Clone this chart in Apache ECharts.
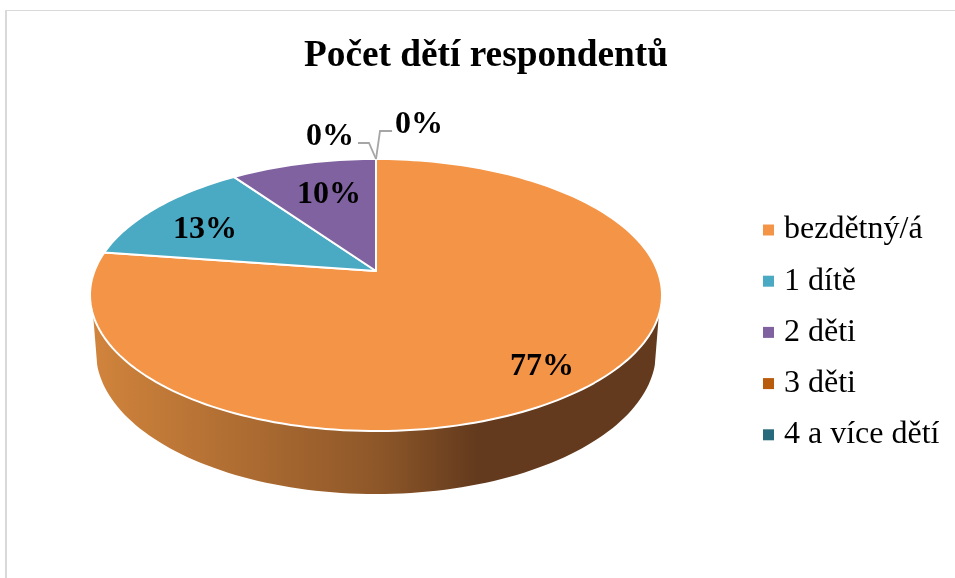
<!DOCTYPE html>
<html>
<head>
<meta charset="utf-8">
<style>html,body{margin:0;padding:0;background:#fff}#c{width:955px;height:578px}</style>
<script src="https://cdn.jsdelivr.net/npm/echarts@6/dist/echarts.min.js"></script>
</head>
<body>
<div id="c"></div>
<script>
const chartTitle = 'Počet dětí respondentů';
const categories = ['bezdětný/á', '1 dítě', '2 děti', '3 děti', '4 a více dětí'];
const shares = [77.3, 12.9, 9.8, 0, 0];
const colors = ['#F39446', '#4AA9C3', '#8062A0', '#B85B0B', '#276A7C'];

// layout (not data)
const FONT = '"Liberation Serif","Times New Roman",serif';
const topDisc = {cx: 376, cy: 271, A: 281.5, B: 131.8};
const botDisc = {cx: 376, cy: 327, A: 275.6, B: 137.6};
const P = 0.1765;
const labelAt = [[542, 367], [205, 230], [329, 195], [330, 137], [419, 125]];
const leaders = {3: [[358, 143], [369, 143], [376, 159]], 4: [[392, 131], [380, 131], [376, 159]]};
const WALL_TOP = [108.4, 251.6], WALL_BOT = [105.3, 254.7];

const total = shares.reduce((a, b) => a + b, 0);
function project(d, deg, r) {
  const a = deg * Math.PI / 180, u = r * Math.sin(a), v = r * Math.cos(a), w = 1 + P * v;
  return [d.cx + d.A * u / w, d.cy - d.B * v / w];
}
function arc(d, a0, a1) {
  const n = Math.max(2, Math.ceil(Math.abs(a1 - a0) / 1.5)), pts = [];
  for (let i = 0; i <= n; i++) pts.push(project(d, a0 + (a1 - a0) * i / n, 1));
  return pts;
}
function renderSlice(idx, value) {
  const before = shares.slice(0, idx).reduce((a, b) => a + b, 0);
  const a0 = before / total * 360, a1 = (before + value) / total * 360;
  const children = [];
  const lo = Math.max(a0, WALL_TOP[0]), hi = Math.min(a1, WALL_TOP[1]);
  if (hi > lo) {
    const k = (WALL_BOT[1] - WALL_BOT[0]) / (WALL_TOP[1] - WALL_TOP[0]);
    const lb = WALL_BOT[0] + (lo - WALL_TOP[0]) * k, hb = WALL_BOT[0] + (hi - WALL_TOP[0]) * k;
    children.push({
      type: 'polygon',
      shape: {points: arc(topDisc, lo, hi).concat(arc(botDisc, hb, lb))},
      style: {fill: {type: 'linear', x: 92, y: 0, x2: 662, y2: 0, global: true, colorStops: [
        {offset: 0, color: '#D1843C'}, {offset: 0.5, color: '#8E5729'},
        {offset: 0.677, color: '#633A1D'}, {offset: 1, color: '#633A1D'}]}}
    });
  }
  if (value > 0) {
    children.push({
      type: 'polygon',
      shape: {points: [[topDisc.cx, topDisc.cy]].concat(arc(topDisc, a0, a1))},
      style: {fill: colors[idx], stroke: '#fff', lineWidth: 2, lineJoin: 'round'}
    });
  }
  if (leaders[idx]) {
    children.push({type: 'polyline', shape: {points: leaders[idx]},
      style: {fill: 'none', stroke: '#A6A6A6', lineWidth: 1.8}});
  }
  return children;
}
const series = categories.map((name, i) => ({
  type: 'custom', name, coordinateSystem: 'none', animation: false, silent: true,
  itemStyle: {color: colors[i]},
  data: [[shares[i]]],
  renderItem: (params, api) => ({type: 'group', children: renderSlice(i, api.value(0))}),
  z: 2 + i
}));
series.push({
  type: 'custom', name: 'labels', coordinateSystem: 'none', animation: false, silent: true, z: 20,
  data: shares.map(v => [v]),
  renderItem: (params, api) => ({
    type: 'text', z2: 50,
    style: {
      x: labelAt[params.dataIndex][0], y: labelAt[params.dataIndex][1],
      text: Math.round(api.value(0) / total * 100) + '%',
      fill: '#000', font: 'bold 32px ' + FONT, align: 'center', verticalAlign: 'middle'
    }
  })
});
const chart = echarts.init(document.getElementById('c'), null, {renderer: 'canvas'});
chart.setOption({
  animation: false,
  backgroundColor: '#fff',
  title: {text: chartTitle, left: 486, top: 33, textAlign: 'center',
    textStyle: {fontFamily: FONT, fontWeight: 'bold', fontSize: 37.3, color: '#000'}},
  legend: {
    data: categories, orient: 'vertical', left: 763, top: 214, padding: 0, icon: 'rect',
    itemWidth: 11, itemHeight: 11, itemGap: 19.2,
    textStyle: {fontFamily: FONT, fontSize: 32, color: '#000', lineHeight: 30, padding: [0, 0, 0, 5]}
  },
  graphic: [
    {type: 'line', silent: true, shape: {x1: 6, y1: 10, x2: 6, y2: 578}, style: {stroke: '#D9D9D9', lineWidth: 2}},
    {type: 'line', silent: true, shape: {x1: 5, y1: 10.5, x2: 955, y2: 10.5}, style: {stroke: '#D9D9D9', lineWidth: 1}}
  ],
  series
});
chart.setOption({title: {left: 481}});
</script>
</body>
</html>
